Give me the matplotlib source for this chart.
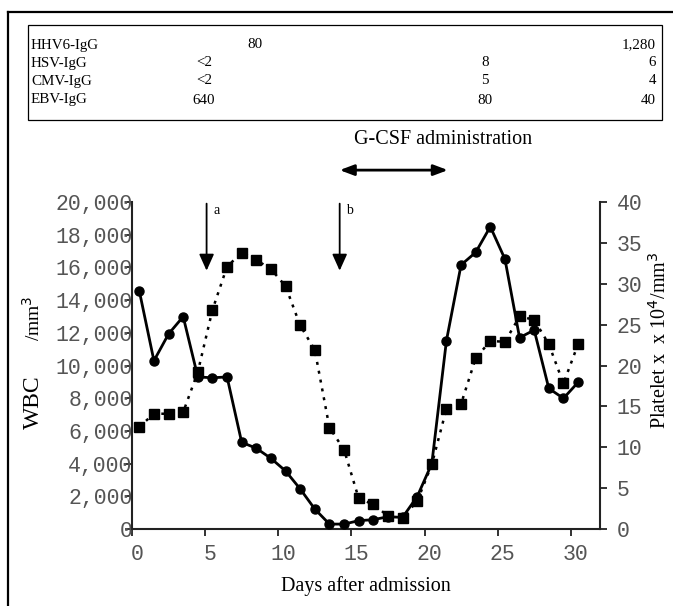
import matplotlib
matplotlib.use('Agg')
import matplotlib.pyplot as plt
import matplotlib.transforms as mtransforms
from matplotlib.lines import Line2D

# data
days = [0.5, 1.5, 2.5, 3.5, 4.5, 5.5, 6.5, 7.5, 8.5, 9.5, 10.5, 11.5, 12.5, 13.5, 14.5, 15.5,
        16.5, 17.5, 18.5, 19.5, 20.5, 21.5, 22.5, 23.5, 24.5, 25.5, 26.5, 27.5, 28.5, 29.5, 30.5]
wbc = [14560, 10290, 11930, 12990, 9300, 9250, 9300, 5300, 4940, 4320, 3550, 2450, 1220, 300,
       300, 510, 570, 750, 710, 1980, 4000, 11520, 16150, 16920, 18490, 16510, 11700, 12170,
       8600, 7990, 8970]
platelet = [12.5, 14.1, 14.1, 14.3, 19.2, 26.8, 32.1, 33.8, 32.9, 31.8, 29.7, 24.9, 21.9, 12.4,
            9.7, 3.75, 3.0, 1.6, 1.4, 3.4, 7.9, 14.7, 15.3, 20.9, 23.0, 22.9, 26.0, 25.6, 22.6,
            17.8, 22.6]

xticks = [0, 5, 10, 15, 20, 25, 30]
wbc_ticks = list(range(0, 20001, 2000))
plt_ticks = list(range(0, 41, 5))

# antibody titre table
tab_rows = ['HHV6-IgG', 'HSV-IgG', 'CMV-IgG', 'EBV-IgG']
tab_col1 = ['', '<2', '<2', '640']
tab_hhv6_first = '80'
tab_col2 = ['', '8', '5', '80']
tab_col3 = ['1,280', '6', '4', '40']

serif = 'Liberation Serif'
mono = 'Liberation Mono'
W, H = 673, 606
tick_grey = '#555555'

fig = plt.figure(figsize=(W / 100, H / 100), dpi=100)

# frame round the figure (top and left only visible)
fig.add_artist(Line2D([8 / W, 8 / W], [0, 1 - 12 / H], color='black', lw=1.6))
fig.add_artist(Line2D([8 / W, 1], [1 - 12 / H, 1 - 12 / H], color='black', lw=1.6))

# table box
fig.add_artist(plt.Rectangle((28 / W, 1 - 120 / H), (662 - 28) / W, (120 - 25) / H,
                             fill=False, ec='black', lw=0.9, transform=fig.transFigure))
row_y = [45, 63, 81, 100]
for i, name in enumerate(tab_rows):
    yy = 1 - row_y[i] / H
    fig.text(31 / W, yy, name, family=serif, fontsize=10.8, va='center', ha='left')
    if tab_col1[i]:
        fig.text(204 / W, yy, tab_col1[i], family=serif, fontsize=10.8, va='center', ha='center')
    if tab_col2[i]:
        fig.text(485 / W, yy, tab_col2[i], family=serif, fontsize=10.8, va='center', ha='center')
    fig.text(656 / W, yy, tab_col3[i], family=serif, fontsize=10.8, va='center', ha='right')
fig.text(255 / W, 1 - row_y[0] / H, tab_hhv6_first, family=serif, fontsize=10.8,
         va='center', ha='center')

ax = fig.add_axes([132 / W, 1 - 529 / H, (600 - 132) / W, (529 - 202) / H])
ax2 = ax.twinx()

ax.plot(days, wbc, color='black', lw=2, marker='o', ms=6.5, zorder=3, clip_on=False)
ax2.plot(days, platelet, color='black', lw=1.8, ls=(0, (1.2, 2.4)), marker='s', ms=7.5,
         clip_on=False)

ax.set_xlim(0, 32)
ax.set_ylim(0, 20000)
ax2.set_ylim(0, 40)
ax.set_xticks(xticks)
ax.set_xticklabels([str(v) for v in xticks])
ax.set_yticks(wbc_ticks)
ax.set_yticklabels(['{:,}'.format(v) for v in wbc_ticks])
ax2.set_yticks(plt_ticks)
ax2.set_yticklabels([str(v) for v in plt_ticks])

for a in (ax, ax2):
    a.spines['top'].set_visible(False)
    for s in a.spines.values():
        s.set_linewidth(1.5)
        s.set_color('#222222')
ax.spines['right'].set_visible(False)
ax2.spines['left'].set_visible(False)
ax2.spines['bottom'].set_visible(False)

ax.tick_params(axis='y', direction='out', length=5, width=1.3, pad=-5.5, labelsize=15.5,
               labelcolor=tick_grey, color='#222222')
ax.tick_params(axis='x', direction='out', length=5, width=1.3, pad=6, labelsize=15.5,
               labelcolor=tick_grey, color='#222222')
ax2.tick_params(axis='y', direction='out', length=5, width=1.3, pad=7, labelsize=15.5,
                labelcolor=tick_grey, color='#222222')
for lab in ax.get_xticklabels() + ax.get_yticklabels() + ax2.get_yticklabels():
    lab.set_family(mono)
shift = mtransforms.ScaledTranslation(5 / 100, 0, fig.dpi_scale_trans)
for lab in ax.get_xticklabels():
    lab.set_transform(lab.get_transform() + shift)

ax.set_xlabel('Days after admission', family=serif, fontsize=14.5, labelpad=8)
fig.text(33 / W, 1 - 402 / H, 'WBC', family=serif, fontsize=17, rotation=90,
         va='center', ha='center')
fig.text(33 / W, 1 - 318 / H, '/mm$^3$', family=serif, fontsize=14, rotation=90,
         va='center', ha='center')
fig.text(660 / W, 1 - 340 / H, 'Platelet x  x 10$^4$/mm$^3$', family=serif, fontsize=14.5,
         rotation=90, va='center', ha='center')

# treatment arrows
for xd, lab in ((5.1, 'a'), (14.2, 'b')):
    ax.annotate('', xy=(xd, 15800), xytext=(xd, 19900), annotation_clip=False,
                arrowprops=dict(arrowstyle='-|>,head_width=0.45,head_length=1.0',
                                color='black', lw=1.3, shrinkA=0, shrinkB=0))
    ax.text(xd + 0.7, 19500, lab, family=serif, fontsize=10, va='center', ha='center')

ax.annotate('', xy=(14.2, 21950), xytext=(21.6, 21950), annotation_clip=False,
            arrowprops=dict(arrowstyle='<|-|>,head_width=0.32,head_length=0.85',
                            color='black', lw=2, shrinkA=0, shrinkB=0))
ax.text(21.3, 23800, 'G-CSF administration', family=serif, fontsize=14.5,
        ha='center', va='center')

fig.savefig('out.png', dpi=100)
